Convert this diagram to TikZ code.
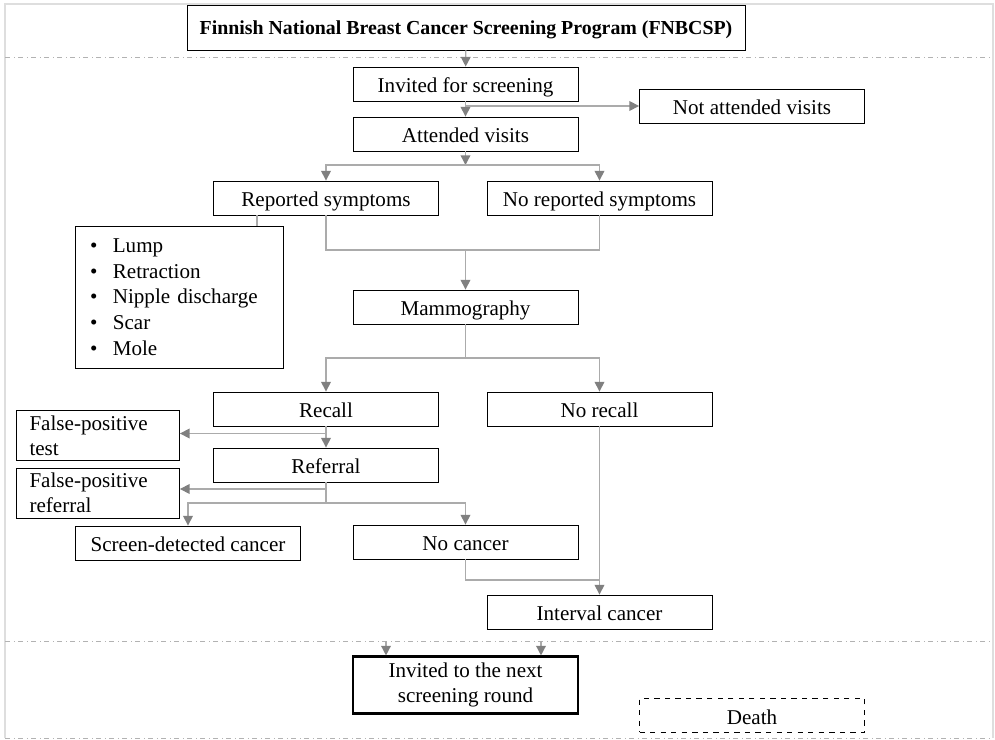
\documentclass[tikz,border=0pt]{standalone}
\usepackage{fontspec}
\setmainfont{Liberation Serif}
\usetikzlibrary{arrows.meta}

\begin{document}
\begin{tikzpicture}[x=0.02cm,y=-0.02cm,
  box/.style={draw,line width=0.5pt,minimum width=4.5cm,minimum height=0.68cm,inner sep=1pt,
    text height=10.5pt,text depth=0.3pt,font=\fontsize{12}{14.2}\selectfont},
  leftbox/.style={box,text height=,text depth=,align=left,minimum width=3.26cm,minimum height=1.0cm,
    inner xsep=0.26cm,text width=2.74cm,font=\fontsize{12}{14}\selectfont},
  link/.style={draw=black!33,line width=0.8pt},
  arr/.style={link,-{Triangle[width=5.5pt,length=5.5pt,color=black!50]}},
  sep/.style={draw=black!30,dash dot,line width=0.5pt}]

\useasboundingbox (0,0) rectangle (995,740);
% frame and round separators
\draw[black!13,line width=1.5pt] (5,738) -- (5,4) -- (993,4) -- (993,738);
\draw[sep] (5,57) -- (993,57);
\draw[sep] (5,641) -- (993,641);
\draw[sep] (5,738) -- (993,738);

% boxes
\node[box,minimum width=11.16cm,minimum height=0.9cm,text height=8.5pt,
  font=\bfseries\fontsize{11.3}{13}\selectfont] (prog) at (466,27.5) {Finnish National Breast Cancer Screening Program (FNBCSP)};
\node[box] (inv) at (465.5,84) {Invited for screening};
\node[box] (notatt) at (752,106) {Not attended visits};
\node[box] (att) at (465.5,134) {Attended visits};

\node[box] (rep) at (326,198) {Reported symptoms};
\node[box] (norep) at (599.5,198) {No reported symptoms};
\node[box,text height=,text depth=,align=left,minimum width=4.16cm,minimum height=2.84cm,inner xsep=0.3cm,text width=3.56cm,
  font=\fontsize{12}{14.6}\selectfont] (symp) at (179,297)
  {\makebox[13pt][l]{\textbullet}Lump\\
   \makebox[13pt][l]{\textbullet}Retraction\\
   \makebox[13pt][l]{\textbullet}Nipple discharge\\
   \makebox[13pt][l]{\textbullet}Scar\\
   \makebox[13pt][l]{\textbullet}Mole};

\node[box] (mam) at (465.5,307) {Mammography};
\node[box] (recall) at (326,409) {Recall};
\node[box] (norecall) at (599.5,409) {No recall};
\node[leftbox] (fpt) at (98,435.5) {False-positive\\test};
\node[box] (referral) at (326,465) {Referral};
\node[leftbox] (fpr) at (98,493) {False-positive\\referral};
\node[box] (sdc) at (188,543) {Screen-detected cancer};
\node[box] (nocancer) at (465.5,542) {No cancer};
\node[box] (interval) at (599.5,612) {Interval cancer};

\node[box,text height=,text depth=,line width=1.2pt,minimum height=1.14cm,align=center] (next) at (465.5,685) {Invited to the next\\screening round};
\node[box,dashed,line width=0.8pt] (death) at (752,715.5) {Death};

% connectors
\draw[arr] (prog) -- (inv);
\draw[arr] (inv) -- (att);
\coordinate (b1) at (465.5,106);
\draw[arr] (b1) -- (notatt);

\coordinate (f1) at (465.5,165);
\draw[arr] (att) -- (f1);
\draw[arr] (f1) -| (rep);
\draw[arr] (f1) -| (norep);

\coordinate (s1) at (257,215);
\draw[link] (s1) -- (s1 |- symp.north);
\coordinate (m1) at (465.5,250);
\draw[link] (rep) |- (m1) -| (norep);
\draw[arr] (m1) -- (mam);

\coordinate (f2) at (465.5,358);
\draw[link] (mam) -- (f2);
\draw[arr] (f2) -| (recall);
\draw[arr] (f2) -| (norecall);

\draw[arr] (recall) -- (referral);
\coordinate (b2) at (326,433.5);
\draw[arr] (b2) -- (b2 -| fpt.east);

\coordinate (b3) at (326,489);
\draw[arr] (b3) -- (b3 -| fpr.east);
\coordinate (f3) at (326,503);
\draw[link] (referral) -- (f3);
\draw[arr] (f3) -| (sdc);
\draw[arr] (f3) -| (nocancer);

\coordinate (m2) at (599.5,580);
\draw[link] (nocancer) |- (m2);
\draw[arr] (norecall) -- (interval);

\coordinate (e1) at (386,641);
\coordinate (e2) at (541,641);
\draw[arr] (e1) -- (e1 |- next.north);
\draw[arr] (e2) -- (e2 |- next.north);
\end{tikzpicture}
\end{document}
